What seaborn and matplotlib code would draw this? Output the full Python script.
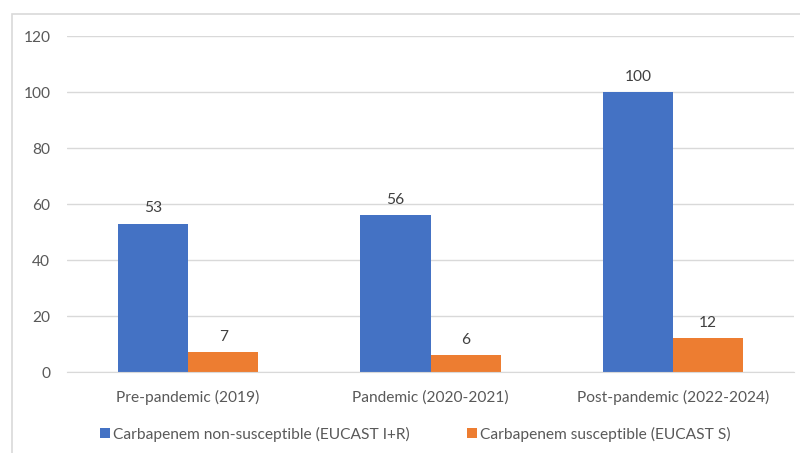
import matplotlib
matplotlib.use("Agg")
import matplotlib.pyplot as plt
import seaborn as sns
import pandas as pd
from matplotlib.patches import Rectangle, Patch

periods = ["Pre-pandemic (2019)", "Pandemic (2020-2021)", "Post-pandemic (2022-2024)"]
series_names = ["Carbapenem non-susceptible (EUCAST I+R)", "Carbapenem susceptible (EUCAST S)"]
non_susceptible = [53, 56, 100]
susceptible = [7, 6, 12]
y_ticks = [0, 20, 40, 60, 80, 100, 120]
colors = ["#4472C4", "#ED7D31"]

df = pd.DataFrame({
    "period": periods * 2,
    "series": [series_names[0]] * 3 + [series_names[1]] * 3,
    "count": non_susceptible + susceptible,
})

sns.set_style("white")
plt.rcParams["font.family"] = ["Lato", "DejaVu Sans"]
text_color = "#595959"
grid_color = "#D9D9D9"
fs = 11.2

fig = plt.figure(figsize=(8, 4.53), dpi=100)
ax = fig.add_axes([0.08375, 0.1788, 0.90875, 0.7417])

sns.barplot(data=df, x="period", y="count", hue="series", hue_order=series_names,
            palette=colors, width=0.578, gap=0, saturation=1, ax=ax,
            legend=False, errorbar=None, linewidth=0)

for container in ax.containers:
    ax.bar_label(container, padding=6, fontsize=fs, color="#404040")

ax.set_ylim(0, 120)
ax.set_xlim(-0.5, 2.5)
ax.set_yticks(y_ticks)
ax.yaxis.grid(True, color=grid_color, linewidth=1)
ax.set_axisbelow(True)
ax.set_xlabel("")
ax.set_ylabel("")
for side in ["top", "right", "left"]:
    ax.spines[side].set_visible(False)
ax.spines["bottom"].set_color(grid_color)
ax.tick_params(axis="y", length=0, pad=12, labelsize=fs, labelcolor=text_color)
ax.tick_params(axis="x", length=0, pad=13, labelsize=fs, labelcolor=text_color)

handles = [Patch(facecolor=c, edgecolor="none") for c in colors]
fig.legend(handles, series_names, loc="center", bbox_to_anchor=(0.519, 0.042),
           ncol=2, frameon=False, fontsize=fs, labelcolor=text_color,
           handlelength=0.65, handleheight=0.65, handletextpad=0.2, columnspacing=3.65)

fig.patches.append(Rectangle((12 / 800, -0.05), 1.0, 1 - 14 / 453 + 0.05,
                             transform=fig.transFigure, fill=False,
                             edgecolor=grid_color, linewidth=1.2))

fig.savefig("out.png", dpi=100)
